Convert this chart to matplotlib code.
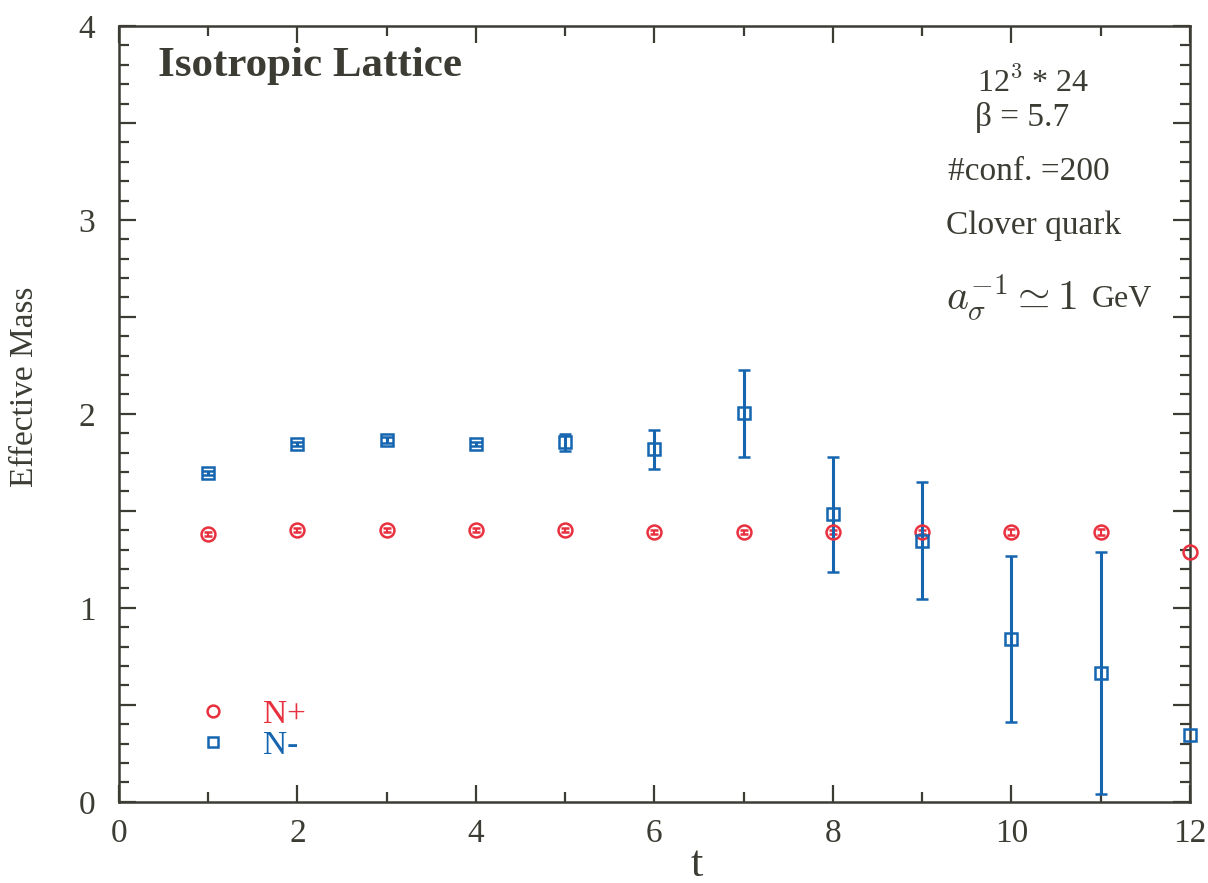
import matplotlib
matplotlib.use("Agg")
import numpy as np
import matplotlib.pyplot as plt
from matplotlib.ticker import MultipleLocator, FuncFormatter
from matplotlib.lines import Line2D

# ---- data ----
t_plus = [1, 2, 3, 4, 5, 6, 7, 8, 9, 10, 11, 12]
m_plus = [1.38, 1.40, 1.40, 1.40, 1.40, 1.39, 1.39, 1.39, 1.39, 1.39, 1.39, 1.29]
e_plus = [0.01, 0.01, 0.01, 0.01, 0.01, 0.01, 0.01, 0.01, 0.01, 0.015, 0.015, np.nan]

t_minus = [1, 2, 3, 4, 5, 6, 7, 8, 9, 10, 11, 12]
m_minus = [1.695, 1.843, 1.867, 1.843, 1.853, 1.817, 2.003, 1.482, 1.346, 0.839, 0.665, 0.344]
e_minus = [0.01, 0.01, 0.015, 0.01, 0.045, 0.10, 0.224, 0.297, 0.303, 0.426, 0.625, np.nan]

labels = ["N+", "N-"]
title_text = "Isotropic Lattice"
info_lines = ["12$^3$ * 24", "β = 5.7", "#conf. =200", "Clover quark"]

RED = "#e8303f"
BLUE = "#1565b0"
TXT = "#3c3c34"

plt.rcParams['font.family'] = ['Liberation Serif', 'DejaVu Serif']
plt.rcParams['mathtext.fontset'] = 'cm'

fig = plt.figure(figsize=(12.08, 8.83), dpi=100)
ax = fig.add_axes([0.0985, 0.092, 0.8865, 0.8786])

ax.errorbar(t_plus, m_plus, yerr=e_plus, fmt='o', color=RED, mfc='none', mec=RED,
            ms=10, mew=1.8, elinewidth=1.5, capsize=3, capthick=1.5, clip_on=False, zorder=3)
ax.errorbar(t_minus, m_minus, yerr=e_minus, fmt='s', color=BLUE, mfc='none', mec=BLUE,
            ms=8, mew=1.8, elinewidth=2.2, capsize=4, capthick=2.2, clip_on=False, zorder=3)

ax.set_xlim(0, 12)
ax.set_ylim(0, 4)

ax.xaxis.set_major_locator(MultipleLocator(2))
ax.xaxis.set_minor_locator(MultipleLocator(1))
ax.yaxis.set_major_locator(MultipleLocator(0.5))
ax.yaxis.set_minor_locator(MultipleLocator(0.1))
ax.yaxis.set_major_formatter(FuncFormatter(lambda v, p: f"{int(round(v))}" if abs(v - round(v)) < 1e-6 else ""))

ax.tick_params(which='both', direction='in', top=True, right=True, color=TXT, labelcolor=TXT)
ax.tick_params(which='major', length=12, width=1.6, labelsize=24)
ax.tick_params(which='minor', length=7, width=1.6)
ax.tick_params(axis='y', which='major', pad=17)
ax.tick_params(axis='x', which='major', pad=12)
for s in ax.spines.values():
    s.set_color(TXT)
    s.set_linewidth(1.8)

ax.set_xlabel("t", fontsize=32, color=TXT)
ax.xaxis.set_label_coords(0.54, -0.056)
ax.set_ylabel("Effective Mass", fontsize=24, color=TXT)
ax.yaxis.set_label_coords(-0.074, 0.535)

ax.text(0.036, 0.948, title_text, transform=ax.transAxes, fontsize=31, fontweight='bold',
        color=TXT, ha='left', va='center')

ax.text(0.801, 0.926, info_lines[0], transform=ax.transAxes, fontsize=23, color=TXT, ha='left', va='center')
ax.text(0.799, 0.882, info_lines[1], transform=ax.transAxes, fontsize=24, color=TXT, ha='left', va='center')
ax.text(0.774, 0.812, info_lines[2], transform=ax.transAxes, fontsize=24, color=TXT, ha='left', va='center')
ax.text(0.772, 0.742, info_lines[3], transform=ax.transAxes, fontsize=24, color=TXT, ha='left', va='center')
ax.text(0.772, 0.650, r"$a_\sigma^{-1} \simeq 1$", transform=ax.transAxes, fontsize=30, color=TXT,
        ha='left', va='center')
ax.text(0.908, 0.647, "GeV", transform=ax.transAxes, fontsize=23, color=TXT, ha='left', va='center')

handles = [Line2D([], [], marker='o', ls='none', mfc='none', mec=RED, ms=8.5, mew=1.8),
           Line2D([], [], marker='s', ls='none', mfc='none', mec=BLUE, ms=7.5, mew=1.8)]
leg = ax.legend(handles, labels, loc='center left', bbox_to_anchor=(0.0724, 0.0924), frameon=False,
                fontsize=24, handlelength=1.0, handletextpad=1.0, labelspacing=0.0,
                borderpad=0.0, borderaxespad=0.0, labelcolor=[RED, BLUE])

fig.savefig("out.png", dpi=100)
